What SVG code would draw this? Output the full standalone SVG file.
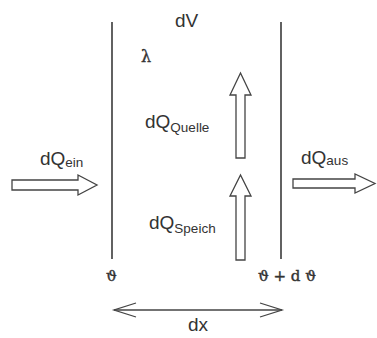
<svg xmlns="http://www.w3.org/2000/svg" width="377" height="338" viewBox="0 0 377 338">
<style>
.t{font-family:"Liberation Sans","DejaVu Sans",sans-serif;fill:#333;font-size:19px}
.s{font-size:13.5px}
.g{font-family:"DejaVu Serif","Liberation Serif",serif;fill:#333;font-size:15px;stroke:#333;stroke-width:0.4}
.wall{stroke:#3a3a3a;stroke-width:1.6;fill:none}
.fa{fill:#fff;stroke:#444;stroke-width:1.3;stroke-linejoin:miter}
.dim{stroke:#444;stroke-width:1.3;fill:none}
</style>
<rect width="377" height="338" fill="#fff"/>
<g id="connectors">
  <line class="wall" x1="112" y1="22" x2="112" y2="259"/>
  <line class="wall" x1="281" y1="22" x2="281" y2="259"/>
  <line class="dim" x1="114" y1="310" x2="282" y2="310"/>
  <polyline class="dim" points="136,303 114,310 136,317"/>
  <polyline class="dim" points="260,303 282,310 260,317"/>
</g>
<g id="volume">
  <text class="t" x="175" y="27">dV</text>
  <text class="g" x="141" y="62" style="font-size:16px">λ</text>
</g>
<g id="quelle">
  <polygon class="fa" points="236,158 236,95 230,95 240.5,73 251,95 245,95 245,158"/>
  <text class="t" x="145" y="128">dQ<tspan class="s" dy="4">Quelle</tspan></text>
</g>
<g id="speich">
  <polygon class="fa" points="236,260 236,196 230,196 240.5,175 251,196 245,196 245,260"/>
  <text class="t" x="149" y="229">dQ<tspan class="s" dy="4">Speich</tspan></text>
</g>
<g id="ein">
  <polygon class="fa" points="12,180 78,180 78,175 97,185 78,195 78,190 12,190"/>
  <text class="t" x="40" y="165">dQ<tspan class="s" dy="2">ein</tspan></text>
</g>
<g id="aus">
  <polygon class="fa" points="293,179 355,179 355,174 375,183.5 355,193 355,188 293,188"/>
  <text class="t" x="301" y="164">dQ<tspan class="s" dy="1">aus</tspan></text>
</g>
<g id="temps">
  <text class="g" x="106" y="281">ϑ</text>
  <text class="g" x="258" y="281">ϑ + d ϑ</text>
</g>
<g id="dx">
  <text class="t" x="188" y="331">dx</text>
</g>
</svg>
